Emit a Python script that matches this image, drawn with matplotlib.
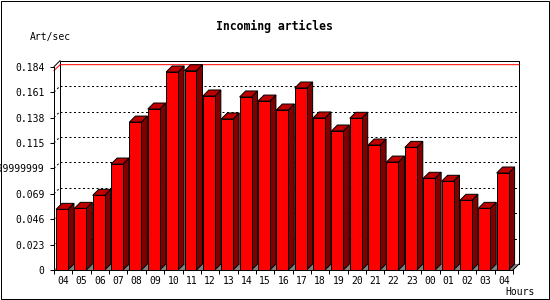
import numpy as np
import matplotlib
matplotlib.use("Agg")
import matplotlib.pyplot as plt
from matplotlib.patches import Polygon, Rectangle

# hourly incoming articles (art/sec)
hours = ["04", "05", "06", "07", "08", "09", "10", "11", "12", "13", "14", "15",
         "16", "17", "18", "19", "20", "21", "22", "23", "00", "01", "02", "03", "04"]
rate = [0.0549, 0.0558, 0.0676, 0.0959, 0.1339, 0.1457, 0.1792, 0.1804, 0.1575,
        0.1367, 0.1566, 0.1529, 0.1448, 0.1647, 0.1376, 0.1258, 0.1373, 0.1131,
        0.0977, 0.1110, 0.0830, 0.0803, 0.0631, 0.0558, 0.0878]
y_ticks = [0, 0.023, 0.046, 0.069, 0.092, 0.115, 0.138, 0.161, 0.184]
y_labels = ["0", "0.023", "0.046", "0.069", "0.09199999999999999",
            "0.115", "0.138", "0.161", "0.184"]

plt.rcParams['font.family'] = ['DejaVu Sans Mono']
LW = 0.72  # one pixel

fig = plt.figure(figsize=(5.5, 3), dpi=100)
ax = fig.add_axes([54 / 550, 30 / 300, 459 / 550, 203.3 / 300])
n = len(hours)
ymax = y_ticks[-1]
ax.set_xlim(0, n)
ax.set_ylim(0, ymax)
ax.patch.set_visible(False)

# 3d depth of 6 px in data units
depth = 6
dx = depth * n / ax.bbox.width
dy = depth * ymax / ax.bbox.height

# floor
ax.add_patch(Polygon([(0, 0), (n, 0), (n + dx, dy), (dx, dy)], closed=True,
                     fc='#808080', ec='none', zorder=0.5, clip_on=False))

# back wall grid and side wall grid
for t in y_ticks[1:-1]:
    ax.plot([dx, n + dx], [t + dy, t + dy], color='black', lw=LW,
            ls=(0, (2, 2.5)), zorder=1, clip_on=False)
    ax.plot([0, dx], [t, t + dy], color='black', lw=LW,
            ls=(0, (2, 2.5)), zorder=1, clip_on=False)

# frame of the back wall
ax.plot([dx, dx, n + dx, n + dx], [dy, ymax + dy, ymax + dy, dy],
        color='black', lw=LW, zorder=1.2, clip_on=False)
ax.plot([0, dx], [ymax, ymax + dy], color='black', lw=LW, zorder=1.2, clip_on=False)
ax.plot([n, n + dx], [0, dy], color='black', lw=LW, zorder=1.2, clip_on=False)

# max line
top = max(rate)
ax.plot([0, dx, n + dx], [top, top + dy, top + dy], color='#ff0000', lw=LW,
        zorder=1.5, clip_on=False)

# bars
w = 0.65
for i, v in enumerate(rate):
    x0 = i + 0.11
    z = 3 + i * 0.01
    ax.add_patch(Polygon([(x0 + w, 0), (x0 + w + dx, dy), (x0 + w + dx, v + dy), (x0 + w, v)],
                         closed=True, fc='#800000', ec='black', lw=LW, zorder=z, clip_on=False))
    ax.add_patch(Polygon([(x0, v), (x0 + w, v), (x0 + w + dx, v + dy), (x0 + dx, v + dy)],
                         closed=True, fc='#c00000', ec='black', lw=LW, zorder=z, clip_on=False))
    ax.add_patch(Rectangle((x0, 0), w, v, fc='#ff0000', ec='black', lw=LW,
                           zorder=z + 0.001, clip_on=False))

for s in ['top', 'right']:
    ax.spines[s].set_visible(False)
for s in ['left', 'bottom']:
    ax.spines[s].set_linewidth(LW)

ax.set_yticks(y_ticks)
ax.set_yticklabels(y_labels, fontsize=7)
ax.tick_params(axis='y', length=3, width=LW, pad=4)

ax.set_xticks(range(n + 1))
ax.set_xticklabels([])
ax.set_xticks(np.arange(n) + 0.5, minor=True)
ax.set_xticklabels(hours, minor=True, fontsize=7)
ax.tick_params(axis='x', which='major', length=3, width=LW)
ax.tick_params(axis='x', which='minor', length=0, pad=4)

fig.text(274 / 550, 1 - 26.7 / 300, "Incoming articles", ha='center', va='center',
         fontsize=8.3, fontweight='bold')
fig.text(30 / 550, 1 - 36.7 / 300, "Art/sec", ha='left', va='center', fontsize=7)
fig.text(505 / 550, 1 - 292.3 / 300, "Hours", ha='left', va='center', fontsize=7)

# outer border
fig.patches.append(Rectangle((1 / 550, 1 / 300), 548 / 550, 298 / 300,
                             transform=fig.transFigure, fill=False, ec='black', lw=LW))

fig.savefig("out.png", dpi=100)
